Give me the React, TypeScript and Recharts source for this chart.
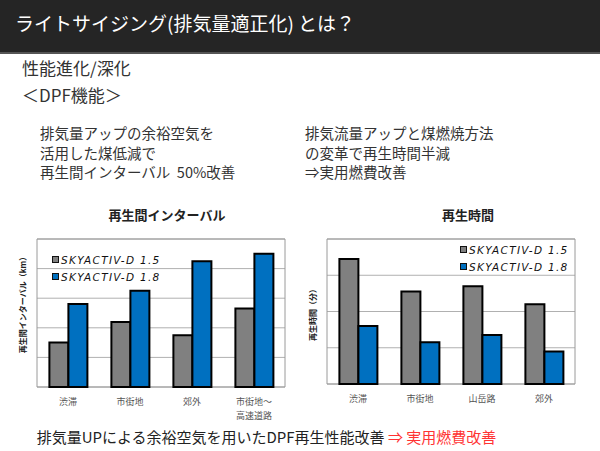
import { Bar, BarChart, CartesianGrid, Legend, ReferenceArea, XAxis, YAxis } from "recharts";

const FONT = '"Noto Sans CJK JP", "Noto Sans", sans-serif';

// 再生間インターバル
const intervalCats = ["渋滞", "市街地", "郊外", "市街地〜\n高速道路"];
const intervalD15 = [1.5, 2.2, 1.75, 2.65];
const intervalD18 = [2.8, 3.25, 4.25, 4.5];

// 再生時間
const timeCats = ["渋滞", "市街地", "山岳路", "郊外"];
const timeD15 = [3.45, 2.55, 2.7, 2.2];
const timeD18 = [1.6, 1.15, 1.35, 0.9];

const seriesNames = ["SKYACTIV-D 1.5", "SKYACTIV-D 1.8"];
const seriesColors = ["#808080", "#0070c0"];

const intervalData = intervalCats.map((c, i) => ({ cat: c, d15: intervalD15[i], d18: intervalD18[i] }));
const timeData = timeCats.map((c, i) => ({ cat: c, d15: timeD15[i], d18: timeD18[i] }));

const CatTick = (props: any) => {
  const { x, y, payload } = props;
  const lines = String(payload.value).split("\n");
  return (
    <text x={x} y={y} textAnchor="middle" fontSize={9} fill="#555" fontFamily={FONT}>
      {lines.map((l, i) => (
        <tspan key={i} x={x} dy={i === 0 ? 10 : 14}>
          {l}
        </tspan>
      ))}
    </text>
  );
};

const LegendBox = () => (
  <div>
    {seriesNames.map((n, i) => (
      <div key={n} style={{ display: "flex", alignItems: "center", height: 17 }}>
        <span
          style={{
            width: 5,
            height: 5,
            background: seriesColors[i],
            border: "1.5px solid #111",
            marginRight: 2,
          }}
        />
        <span
          style={{
            fontFamily: '"DejaVu Sans", sans-serif',
            fontStyle: "italic",
            fontSize: 10.5,
            letterSpacing: 1.3,
            color: "#111",
          }}
        >
          {n}
        </span>
      </div>
    ))}
  </div>
);

function DpfChart({
  data,
  max,
  margin,
  legendPos,
}: {
  data: { cat: string; d15: number; d18: number }[];
  max: number;
  margin: { top: number; right: number; bottom: number; left: number };
  legendPos: { left: number; top: number };
}) {
  const ticks = Array.from({ length: max + 1 }, (_, i) => i);
  return (
    <BarChart width={300} height={230} data={data} margin={margin} barCategoryGap="20%" barGap={0}>
      <CartesianGrid vertical={false} stroke="#b0b0b0" />
      <ReferenceArea y1={0} y2={max} fill="none" stroke="#9a9a9a" strokeWidth={1} />
      <XAxis dataKey="cat" axisLine={false} tickLine={false} height={30} interval={0} tick={<CatTick />} />
      <YAxis hide domain={[0, max]} ticks={ticks} />
      <Legend
        content={<LegendBox />}
        layout="vertical"
        align="center"
        verticalAlign="middle"
        wrapperStyle={{ left: legendPos.left, top: legendPos.top, width: 140 }}
      />
      <Bar dataKey="d15" name={seriesNames[0]} fill={seriesColors[0]} stroke="#000" strokeWidth={2} isAnimationActive={false} />
      <Bar dataKey="d18" name={seriesNames[1]} fill={seriesColors[1]} stroke="#000" strokeWidth={2} isAnimationActive={false} />
    </BarChart>
  );
}

const abs = (left: number, top: number, extra: any = {}) => ({ position: "absolute" as const, left, top, ...extra });

export default function App() {
  return (
    <div style={{ position: "relative", width: 600, height: 451, background: "#fff", overflow: "hidden", fontFamily: FONT, color: "#333" }}>
      <style>{"body{margin:0}"}</style>
      <div style={abs(0, 0, { width: 600, height: 52, background: "#252525", borderBottom: "2px solid #555" })} />
      <div style={abs(15, 9, { color: "#fff", fontSize: 19, lineHeight: "28px" })}>ライトサイジング(排気量適正化) とは？</div>
      <div style={abs(22, 56, { fontSize: 17, lineHeight: "24px" })}>性能進化/深化</div>
      <div style={abs(22, 83, { fontSize: 17, lineHeight: "24px" })}>＜DPF機能＞</div>
      <div style={abs(40, 123, { fontSize: 14.5, lineHeight: "19.5px" })}>
        排気量アップの余裕空気を<br />活用した煤低減で<br />再生間インターバル&nbsp; 50%改善
      </div>
      <div style={abs(305, 123, { fontSize: 14.5, lineHeight: "19.5px" })}>
        排気流量アップと煤燃焼方法<br />の変革で再生時間半減<br />⇒実用燃費改善
      </div>

      <div style={abs(0, 205, { width: 334, textAlign: "center", fontSize: 13, fontWeight: 700, lineHeight: "20px", color: "#222" })}>再生間インターバル</div>
      <div style={abs(300, 205, { width: 336, textAlign: "center", fontSize: 13, fontWeight: 700, lineHeight: "20px", color: "#222" })}>再生時間</div>

      <div style={abs(0, 200)}>
        <DpfChart data={intervalData} max={5} margin={{ top: 39, right: 15, bottom: 13, left: 37 }} legendPos={{ left: 52, top: 51 }} />
      </div>
      <div style={abs(300, 200)}>
        <DpfChart data={timeData} max={4} margin={{ top: 39, right: 25, bottom: 16, left: 27 }} legendPos={{ left: 160, top: 41 }} />
      </div>

      <div style={abs(-37, 297, { width: 120, textAlign: "center", transform: "rotate(-90deg)", fontSize: 8, fontWeight: 700, lineHeight: "12px", color: "#222" })}>再生間インターバル（km）</div>
      <div style={abs(253, 307, { width: 120, textAlign: "center", transform: "rotate(-90deg)", fontSize: 8, fontWeight: 700, lineHeight: "12px", color: "#222" })}>再生時間（分）</div>

      <div style={abs(0, 426, { width: 533, textAlign: "center", fontSize: 15, lineHeight: "22px", color: "#222" })}>
        排気量UPによる余裕空気を用いたDPF再生性能改善 <span style={{ color: "#ff3333" }}>⇒ 実用燃費改善</span>
      </div>
    </div>
  );
}
